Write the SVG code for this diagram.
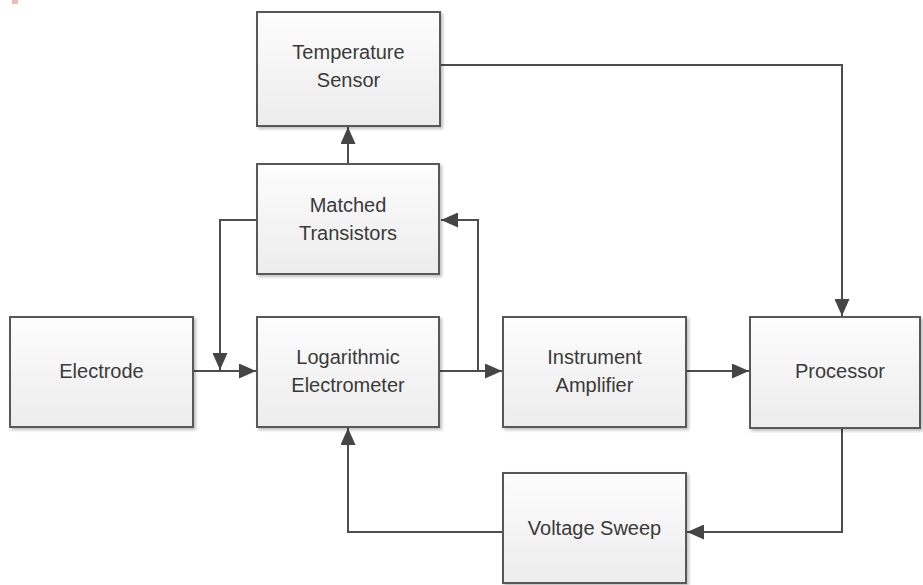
<svg xmlns="http://www.w3.org/2000/svg" width="923" height="585" viewBox="0 0 923 585">
<style>
.box{fill:url(#g);stroke:#595959;stroke-width:2;filter:url(#sh)}
.t{font-family:"Liberation Sans",Arial,sans-serif;font-size:20px;fill:#3a3a3a;text-anchor:middle}
.c{fill:none;stroke:#4d4d4d;stroke-width:2}
</style>
<defs>
<linearGradient id="g" x1="0" y1="0" x2="0" y2="1">
<stop offset="0" stop-color="#fdfdfd"/>
<stop offset="1" stop-color="#ececec"/>
</linearGradient>
<filter id="sh" x="-5%" y="-5%" width="115%" height="115%">
<feDropShadow dx="2" dy="2" stdDeviation="1.5" flood-color="#000" flood-opacity="0.25"/>
</filter>
<marker id="a" viewBox="0 0 17 15" refX="17" refY="7.5" markerWidth="17" markerHeight="15" markerUnits="userSpaceOnUse" orient="auto">
<path d="M0,0 L17,7.5 L0,15 Z" fill="#454545"/>
</marker>
</defs>
<rect x="12" y="0" width="6" height="4" fill="#e8a0a0" opacity="0.7"/>
<g id="connectors">
<path class="c" d="M348,164 V127" marker-end="url(#a)"/>
<path class="c" d="M440,65 H842 V316" marker-end="url(#a)"/>
<path class="c" d="M257,220 H220 V370" marker-end="url(#a)"/>
<path class="c" d="M193,371 H256" marker-end="url(#a)"/>
<path class="c" d="M439,371 H502" marker-end="url(#a)"/>
<path class="c" d="M478,371 V220 H441" marker-end="url(#a)"/>
<path class="c" d="M686,371 H749" marker-end="url(#a)"/>
<path class="c" d="M842,428 V532 H687" marker-end="url(#a)"/>
<path class="c" d="M503,532 H348 V428" marker-end="url(#a)"/>
</g>
<g id="temperature-sensor">
<rect class="box" x="257" y="12" width="183" height="114"/>
<text class="t" x="348.5" y="59">Temperature</text>
<text class="t" x="348.5" y="87">Sensor</text>
</g>
<g id="matched-transistors">
<rect class="box" x="257" y="164" width="182" height="110"/>
<text class="t" x="348" y="212">Matched</text>
<text class="t" x="348" y="240">Transistors</text>
</g>
<g id="electrode">
<rect class="box" x="10" y="317" width="183" height="110"/>
<text class="t" x="101.5" y="378">Electrode</text>
</g>
<g id="logarithmic-electrometer">
<rect class="box" x="257" y="317" width="182" height="110"/>
<text class="t" x="348" y="364">Logarithmic</text>
<text class="t" x="348" y="392">Electrometer</text>
</g>
<g id="instrument-amplifier">
<rect class="box" x="503" y="317" width="183" height="110"/>
<text class="t" x="594.5" y="364">Instrument</text>
<text class="t" x="594.5" y="392">Amplifier</text>
</g>
<g id="processor">
<rect class="box" x="750" y="317" width="170" height="111"/>
<text class="t" x="840" y="378">Processor</text>
</g>
<g id="voltage-sweep">
<rect class="box" x="503" y="473" width="183" height="110"/>
<text class="t" x="594.5" y="535">Voltage Sweep</text>
</g>
</svg>
